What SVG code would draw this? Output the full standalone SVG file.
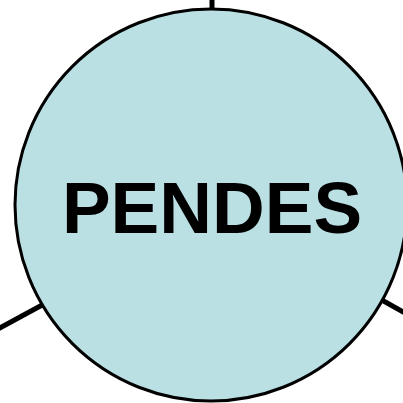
<svg xmlns="http://www.w3.org/2000/svg" width="403" height="403" viewBox="0 0 403 403">
<style>
.conn{stroke:#000;stroke-width:5;fill:none}
.node{fill:#BAE0E4;stroke:#000;stroke-width:3}
.lbl{font-family:"Liberation Sans",Arial,sans-serif;font-weight:bold;font-size:73px;fill:#000}
</style>
<rect width="403" height="403" fill="#fff"/>
<g id="connectors">
<line class="conn" x1="212" y1="0" x2="212" y2="12"/>
<line class="conn" x1="-2" y1="329" x2="44" y2="304"/>
<line class="conn" x1="380" y1="299" x2="405" y2="313"/>
</g>
<g id="node-pendes">
<circle class="node" cx="211" cy="205" r="196"/>
<text class="lbl" x="212" y="233" text-anchor="middle">PENDES</text>
</g>
</svg>
